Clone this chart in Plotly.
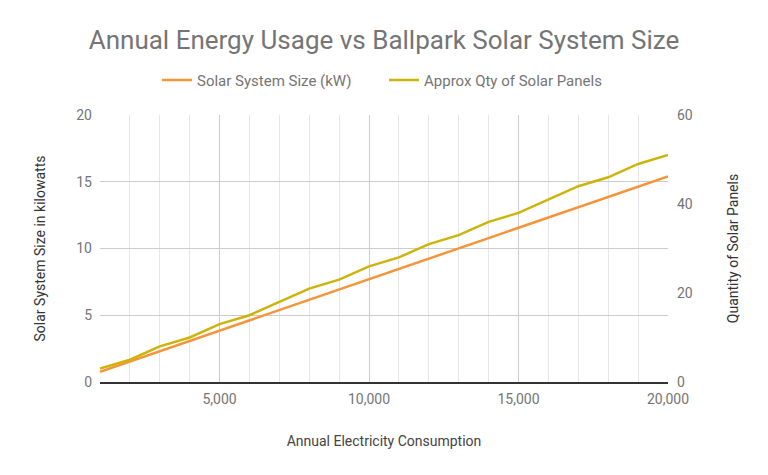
import plotly.graph_objects as go

consumption = [1000, 2000, 3000, 4000, 5000, 6000, 7000, 8000, 9000, 10000,
               11000, 12000, 13000, 14000, 15000, 16000, 17000, 18000, 19000, 20000]
system_kw = [0.77, 1.54, 2.31, 3.08, 3.85, 4.62, 5.39, 6.16, 6.93, 7.70,
             8.47, 9.24, 10.01, 10.78, 11.55, 12.32, 13.09, 13.86, 14.63, 15.40]
panels = [3, 5, 8, 10, 13, 15, 18, 21, 23, 26, 28, 31, 33, 36, 38, 41, 44, 46, 49, 51]

x_ticks = [5000, 10000, 15000, 20000]
x_tick_text = ["5,000", "10,000", "15,000", "20,000"]
left_ticks = [0, 5, 10, 15, 20]
right_ticks = [0, 20, 40, 60]

FONT = "Roboto"
GREY = "#757575"

fig = go.Figure()
fig.add_trace(go.Scatter(x=consumption, y=system_kw, mode="lines",
                         name="Solar System Size (kW)",
                         line=dict(color="#f6943a", width=2.5)))
fig.add_trace(go.Scatter(x=consumption, y=panels, mode="lines",
                         name="Approx Qty of Solar Panels", yaxis="y2",
                         line=dict(color="#cdb40b", width=2.5)))

fig.update_layout(
    width=768, height=475,
    margin=dict(l=100, r=100, t=115, b=93),
    paper_bgcolor="white", plot_bgcolor="white",
    font=dict(family=FONT, color=GREY, size=14),
    title=dict(text="Annual Energy Usage vs Ballpark Solar System Size",
               x=0.5, xanchor="center", y=0.915, yanchor="middle",
               font=dict(size=26, color=GREY, family=FONT)),
    showlegend=True,
    legend=dict(orientation="h", x=0.5, xanchor="center", y=1.13, yanchor="middle",
                font=dict(size=15, color=GREY, family=FONT),
                itemwidth=30, entrywidth=182, entrywidthmode="pixels"),
    xaxis=dict(range=[1000, 20000], tickvals=x_ticks, ticktext=x_tick_text,
               showgrid=True, gridcolor="#cccccc", gridwidth=1,
               minor=dict(dtick=1000, tick0=0, showgrid=True, gridcolor="#e6e6e6", gridwidth=1),
               showline=True, linecolor="#333333", linewidth=1.5,
               zeroline=False, ticks="", ticklabelstandoff=3,
               tickfont=dict(size=14, color=GREY),
               title=dict(text="Annual Electricity Consumption", standoff=31,
                          font=dict(size=14, color="#444444"))),
    yaxis=dict(range=[0, 20], tickvals=left_ticks, showgrid=True, gridcolor="#cccccc",
               zeroline=False, ticks="", showline=False, ticklabelstandoff=7,
               tickfont=dict(size=14, color=GREY),
               title=dict(text="Solar System Size in kilowatts", standoff=27,
                          font=dict(size=14, color="#333333"))),
    yaxis2=dict(range=[0, 60], tickvals=right_ticks, overlaying="y", side="right",
                showgrid=False, zeroline=False, ticks="", showline=False, ticklabelstandoff=8,
                tickfont=dict(size=14, color=GREY),
                title=dict(text="Quantity of Solar Panels", standoff=36,
                           font=dict(size=14, color="#333333"))),
)

fig.write_html("out.html")
